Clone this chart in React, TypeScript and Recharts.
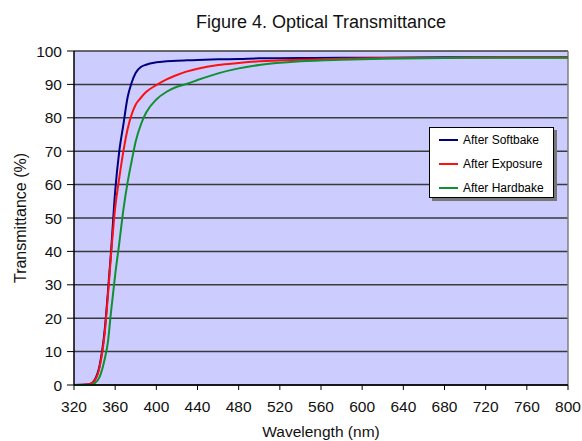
import { Line, LineChart, XAxis, YAxis, CartesianGrid, ReferenceLine } from "recharts";

const wavelengths = [320, 335, 340, 345, 350, 353, 356, 360, 364, 368, 372, 376, 380, 385, 390, 400, 410, 420, 430, 440, 460, 480, 500, 540, 580, 620, 680, 740, 800];
const softbake = [0, 0.2, 1.5, 6, 17, 28, 40, 58, 70, 78, 86, 90.5, 93.5, 95.2, 95.9, 96.6, 96.9, 97.1, 97.2, 97.3, 97.5, 97.6, 97.8, 97.9, 98, 98, 98.1, 98.1, 98.1];
const exposure = [0, 0.2, 1.3, 5.5, 16, 27, 39, 53, 62, 70, 76.5, 81, 84, 86, 87.7, 89.8, 91.5, 92.8, 93.9, 94.7, 95.8, 96.4, 96.9, 97.4, 97.7, 97.9, 98, 98.1, 98.1];
const hardbake = [0, 0, 0.5, 2.5, 8, 13, 22, 33, 42.5, 52.5, 60.5, 67, 73, 78, 81.5, 85.5, 87.8, 89.3, 90.2, 91.3, 93.3, 94.8, 95.8, 96.9, 97.4, 97.7, 97.9, 98, 98];

const xTicks = [320, 360, 400, 440, 480, 520, 560, 600, 640, 680, 720, 760, 800];
const yTicks = [0, 10, 20, 30, 40, 50, 60, 70, 80, 90, 100];

const seriesInfo = [
  { key: "softbake", name: "After Softbake", color: "#00007f" },
  { key: "exposure", name: "After Exposure", color: "#ff1010" },
  { key: "hardbake", name: "After Hardbake", color: "#109030" },
];

const data = wavelengths.map((w, i) => ({ w, softbake: softbake[i], exposure: exposure[i], hardbake: hardbake[i] }));

const font = "'Liberation Sans', Arial, sans-serif";

function LegendBox() {
  return (
    <div
      style={{
        position: "absolute",
        left: 429,
        top: 127,
        background: "#fff",
        border: "1px solid #000",
        boxShadow: "3px 3px 0 #777",
        width: 125,
        height: 71,
        fontFamily: font,
        fontSize: 12,
        color: "#000",
        boxSizing: "border-box",
      }}
    >
      {seriesInfo.map((s, i) => (
        <div key={s.key} style={{ position: "absolute", left: 9, top: 4 + i * 24, display: "flex", alignItems: "center", height: 16, whiteSpace: "nowrap" }}>
          <span style={{ display: "inline-block", width: 19, height: 2, background: s.color, marginRight: 5 }} />
          <span>{s.name}</span>
        </div>
      ))}
    </div>
  );
}

export default function App() {
  return (
    <div style={{ position: "fixed", top: 0, left: 0, width: 582, height: 441, overflow: "hidden", background: "#fff", fontFamily: font }}>
      <div style={{ position: "absolute", top: 12, left: 190, width: 262, textAlign: "center", fontSize: 18, color: "#111", whiteSpace: "nowrap" }}>
        Figure 4. Optical Transmittance
      </div>
      <LineChart width={582} height={441} data={data} margin={{ top: 51, right: 14, left: 0, bottom: 4 }}>
        <CartesianGrid vertical={false} fill="#ccccff" fillOpacity={1} stroke="#3a3a3a" strokeWidth={1.5} horizontalValues={yTicks} />
        <XAxis
          dataKey="w"
          type="number"
          domain={[320, 800]}
          ticks={xTicks}
          interval={0}
          height={52}
          tickLine={{ stroke: "#000" }}
          axisLine={{ stroke: "#000", strokeWidth: 1.5 }}
          tick={{ fontSize: 15.5, fill: "#111", fontFamily: font }}
          tickSize={5}
          tickMargin={11}
          label={{ value: "Wavelength (nm)", position: "insideBottom", offset: 0, fontSize: 15.5, fill: "#111", fontFamily: font }}
        />
        <YAxis
          type="number"
          domain={[0, 100]}
          ticks={yTicks}
          interval={0}
          width={74}
          tickLine={{ stroke: "#000" }}
          axisLine={{ stroke: "#000", strokeWidth: 1.5 }}
          tick={{ fontSize: 15.5, fill: "#111", fontFamily: font }}
          tickSize={7}
          tickMargin={5}
          label={({ viewBox }: any) => (
            <text
              x={viewBox.x + 20}
              y={viewBox.y + viewBox.height / 2}
              transform={`rotate(-90, ${viewBox.x + 20}, ${viewBox.y + viewBox.height / 2})`}
              textAnchor="middle"
              dominantBaseline="central"
              fontSize={16}
              fill="#111"
              fontFamily={font}
            >
              Transmittance (%)
            </text>
          )}
        />
        <ReferenceLine x={800} stroke="#808080" strokeWidth={1.5} />
        {seriesInfo.map((s) => (
          <Line
            key={s.key}
            type="monotone"
            dataKey={s.key}
            name={s.name}
            stroke={s.color}
            strokeWidth={2}
            dot={false}
            isAnimationActive={false}
          />
        ))}
      </LineChart>
      <LegendBox />
    </div>
  );
}
